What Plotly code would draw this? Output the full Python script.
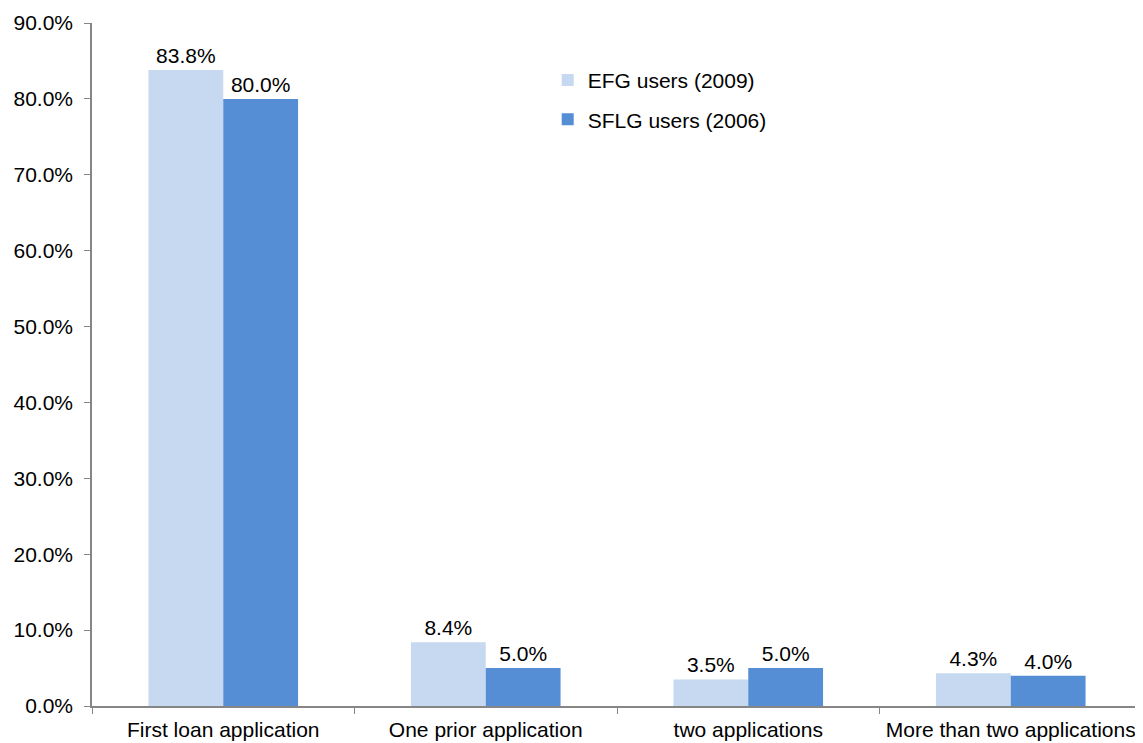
import plotly.graph_objects as go

categories = ["First loan application", "One prior application", "two applications", "More than two applications"]
efg_2009 = [83.8, 8.4, 3.5, 4.3]
sflg_2006 = [80.0, 5.0, 5.0, 4.0]
series_names = ["EFG users (2009)", "SFLG users (2006)"]
colors = ["#C6D9F1", "#558ED5"]

FONT = "Liberation Sans, Arial, sans-serif"
FS = 21

fig = go.Figure()
for i, (name, vals) in enumerate(zip(series_names, [efg_2009, sflg_2006])):
    fig.add_trace(go.Bar(
        x=categories, y=vals, name=name,
        marker=dict(color=colors[i], line=dict(width=0)),
        text=[f"{v:.1f}%" for v in vals], textposition="outside",
        textfont=dict(size=FS, color="#000000", family=FONT),
        cliponaxis=False, legendgroup=f"g{i}",
    ))

# page has an 8px body margin; compensate so the plot lands where the reference has it
fig.update_layout(
    width=1135, height=735,
    margin=dict(l=84, r=1, t=15, b=37, autoexpand=False),
    paper_bgcolor="white", plot_bgcolor="white",
    barmode="group", bargap=0.43, bargroupgap=0,
    font=dict(family=FONT, size=FS, color="#000000"),
    legend=dict(x=0.434, y=0.946, xanchor="left", yanchor="top",
                font=dict(size=FS, color="#000000", family=FONT),
                bgcolor="rgba(0,0,0,0)", itemwidth=30, tracegroupgap=9,
                traceorder="grouped"),
)
fig.update_yaxes(range=[0, 90], dtick=10, tickformat=".1f", ticksuffix="%",
                 showgrid=False, zeroline=False, showline=True, linecolor="#868686", linewidth=1.5,
                 ticks="outside", ticklen=6, tickcolor="#868686", tickwidth=1, automargin=False,
                 ticklabelstandoff=7,
                 tickfont=dict(size=FS, color="#000000"))
fig.update_xaxes(showgrid=False, showline=True, linecolor="#868686", linewidth=1.5,
                 ticks="outside", ticklen=6, tickcolor="#868686", tickson="boundaries", automargin=False,
                 ticklabelstandoff=4,
                 tickfont=dict(size=FS, color="#000000"))

fig.write_html("out.html")
